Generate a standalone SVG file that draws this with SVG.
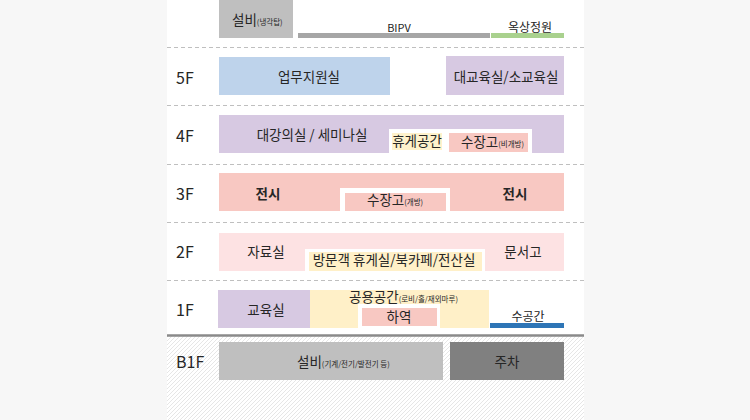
<svg xmlns="http://www.w3.org/2000/svg" width="750" height="420" viewBox="0 0 750 420">
<defs>
<pattern id="hatch" width="4" height="4" patternUnits="userSpaceOnUse">
<path d="M-1,1 l2,-2 M0,4 l4,-4 M3,5 l2,-2" stroke="#e0e0e0" stroke-width="0.8"/>
</pattern>
<style>
text{font-family:"Noto Sans CJK KR","Noto Sans",sans-serif;fill:#262626}
.t{font-size:13.5px;text-anchor:middle}
.m{font-size:13.5px}
.s{font-size:7.5px}
.fl{font-size:16px}
.b{font-weight:bold}
.floor{stroke:#bfbfbf;stroke-width:1;stroke-dasharray:4 3}
</style>
</defs>
<rect width="750" height="420" fill="#f7f7f7"/>
<rect x="167" y="0" width="417" height="420" fill="#ffffff"/>
<rect x="167" y="336" width="417" height="84" fill="url(#hatch)"/>
<g id="floor-lines">
<line class="floor" x1="167" y1="47.5" x2="584" y2="47.5"/>
<line class="floor" x1="167" y1="105.5" x2="584" y2="105.5"/>
<line class="floor" x1="167" y1="164.5" x2="584" y2="164.5"/>
<line class="floor" x1="167" y1="222.5" x2="584" y2="222.5"/>
<line class="floor" x1="167" y1="280.5" x2="584" y2="280.5"/>
<line x1="167" y1="335.5" x2="584" y2="335.5" stroke="#8a8a8a" stroke-width="2.5"/>
</g>
<g id="floor-labels">
<text class="fl" x="176" y="84">5F</text>
<text class="fl" x="176" y="142">4F</text>
<text class="fl" x="176" y="200">3F</text>
<text class="fl" x="176" y="258">2F</text>
<text class="fl" x="176" y="316">1F</text>
<text class="fl" x="176" y="368">B1F</text>
</g>
<g id="roof-equip">
<rect x="219" y="0" width="74" height="38" fill="#bfbfbf"/>
<text class="m" x="232" y="25">설비<tspan class="s">(냉각탑)</tspan></text>
</g>
<g id="bipv">
<rect x="298" y="33" width="192" height="5" fill="#a6a6a6"/>
<text class="t" x="399" y="32" style="font-size:11px">BIPV</text>
</g>
<g id="roof-garden">
<rect x="491" y="33" width="73" height="5" fill="#a9d18e"/>
<text class="t" x="530" y="32" style="font-size:12px">옥상정원</text>
</g>
<g id="f5-support">
<rect x="219" y="57" width="171" height="38" fill="#bed3eb"/>
<text class="t" x="309" y="82">업무지원실</text>
</g>
<g id="f5-edu">
<rect x="446" y="56" width="118" height="39" fill="#d7c9e2"/>
<text class="t" x="506" y="82">대교육실/소교육실</text>
</g>
<g id="f4-lecture">
<path d="M219,115 H564 V153 H532 V129 H389 V153 H219 Z" fill="#d7c9e2"/>
<text class="t" x="312" y="140">대강의실 / 세미나실</text>
</g>
<g id="f4-lounge">
<rect x="392" y="133" width="50" height="17" fill="#fff2cc"/>
<text class="t" x="417" y="146">휴게공간</text>
</g>
<g id="f4-storage">
<rect x="449" y="133" width="79" height="19" fill="#f8c8c2"/>
<text class="m" x="461" y="147">수장고<tspan class="s">(비개방)</tspan></text>
</g>
<g id="f3-exhibit">
<path d="M219,173 H564 V211 H450 V188 H340 V211 H219 Z" fill="#f8c8c2"/>
<text class="t b" x="268" y="199">전시</text>
<text class="t b" x="515" y="199">전시</text>
</g>
<g id="f3-storage">
<rect x="345" y="193" width="101" height="18" fill="#f8c8c2"/>
<text class="m" x="367" y="205">수장고<tspan class="s">(개방)</tspan></text>
</g>
<g id="f2-archive">
<path d="M219,233 H564 V271 H485 V249 H305 V271 H219 Z" fill="#fde2e3"/>
<text class="t" x="266" y="257">자료실</text>
<text class="t" x="523" y="257">문서고</text>
</g>
<g id="f2-visitor">
<rect x="309" y="252" width="173" height="19" fill="#fff0c8"/>
<text class="t" x="394" y="265">방문객 휴게실/북카페/전산실</text>
</g>
<g id="f1-edu">
<rect x="218" y="290" width="92" height="38" fill="#d7c9e2"/>
<text class="t" x="266" y="315">교육실</text>
</g>
<g id="f1-common">
<path d="M310,290 H489 V328 H440 V304 H358 V328 H310 Z" fill="#fff0c8"/>
<text class="m" x="349" y="302">공용공간<tspan class="s">(로비/홀/재외마루)</tspan></text>
</g>
<g id="f1-loading">
<rect x="362" y="308" width="75" height="18" fill="#f8c8c2"/>
<text class="t" x="399" y="322">하역</text>
</g>
<g id="f1-water">
<rect x="490" y="323" width="74" height="5" fill="#2e75b6"/>
<text class="t" x="528" y="321" style="font-size:12px">수공간</text>
</g>
<g id="b1-equip">
<rect x="219" y="342" width="224" height="38" fill="#bfbfbf"/>
<text class="m" x="297" y="367">설비<tspan class="s">(기계/전기/발전기 등)</tspan></text>
</g>
<g id="b1-parking">
<rect x="450" y="342" width="114" height="38" fill="#808080"/>
<text class="t" x="507" y="367">주차</text>
</g>
</svg>
